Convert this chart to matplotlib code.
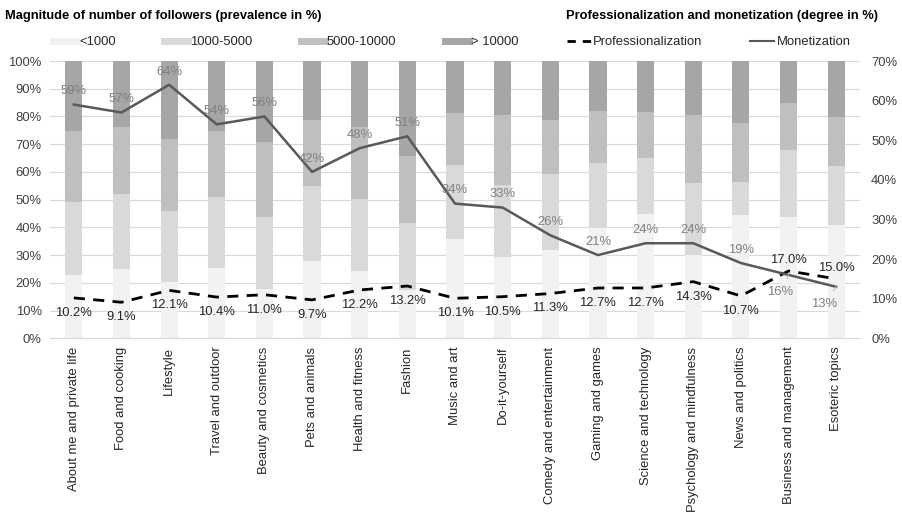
import matplotlib
matplotlib.use("Agg")
import matplotlib.pyplot as plt
from matplotlib.lines import Line2D
import numpy as np

plt.rcParams['font.family'] = ['Liberation Sans', 'DejaVu Sans']

# categories
topics = [
    "About me and private life", "Food and cooking", "Lifestyle", "Travel and outdoor",
    "Beauty and cosmetics", "Pets and animals", "Health and fitness", "Fashion",
    "Music and art", "Do-it-yourself", "Comedy and entertainment", "Gaming and games",
    "Science and technology", "Psychology and mindfulness", "News and politics",
    "Business and management", "Esoteric topics",
]

# follower magnitude shares (% of each topic)
lt_1000 = [22.7, 25.0, 20.4, 25.4, 17.8, 28.0, 24.3, 17.4, 35.8, 29.2, 31.8, 39.7, 45.0, 30.0, 44.5, 43.6, 40.9]
f_1000_5000 = [26.6, 26.9, 25.4, 25.7, 26.1, 26.9, 25.8, 24.1, 26.7, 26.1, 27.5, 23.4, 19.9, 25.9, 12.0, 24.3, 21.1]
f_5000_10000 = [25.5, 24.4, 26.2, 23.7, 26.8, 23.8, 26.0, 24.2, 18.6, 25.2, 19.4, 18.8, 16.6, 24.6, 21.1, 16.8, 17.9]
gt_10000 = [round(100 - a - b - c, 1) for a, b, c in zip(lt_1000, f_1000_5000, f_5000_10000)]

# degree of professionalization / monetization (%)
professionalization = [10.2, 9.1, 12.1, 10.4, 11.0, 9.7, 12.2, 13.2, 10.1, 10.5, 11.3, 12.7, 12.7, 14.3, 10.7, 17.0, 15.0]
monetization = [59, 57, 64, 54, 56, 42, 48, 51, 34, 33, 26, 21, 24, 24, 19, 16, 13]

bar_colors = ['#f2f2f2', '#d9d9d9', '#bfbfbf', '#a6a6a6']
bar_labels = ['<1000', '1000-5000', '5000-10000', '> 10000']

fig = plt.figure(figsize=(9.03, 5.12), dpi=100)
ax = fig.add_axes([50/903, 1 - 338.3/512, 810/903, 277.3/512])
ax2 = ax.twinx()

x = np.arange(len(topics))
bottom = np.zeros(len(topics))
for vals, col in zip([lt_1000, f_1000_5000, f_5000_10000, gt_10000], bar_colors):
    ax.bar(x, vals, width=0.36, bottom=bottom, color=col, zorder=2)
    bottom += np.array(vals)

ax.set_ylim(0, 100)
ax.set_xlim(-0.5, len(topics) - 0.5)
ax.set_yticks(np.arange(0, 101, 10))
ax.set_yticklabels([f"{v}%" for v in range(0, 101, 10)])
ax.yaxis.grid(True, color='#d9d9d9', lw=0.8, zorder=0)
ax.set_axisbelow(True)
ax.set_xticks(x)
ax.set_xticklabels(topics, rotation=90, fontsize=9.4, color='#262626')
ax.tick_params(axis='y', labelsize=9.4, labelcolor='#404040', length=0, pad=6)
ax.tick_params(axis='x', length=0, pad=6)
for s in ax.spines.values():
    s.set_visible(False)
ax.spines['bottom'].set_visible(True)
ax.spines['bottom'].set_color('#d9d9d9')

ax2.plot(x, professionalization, color='black', lw=2, ls=(0, (4, 3)), zorder=3)
ax2.plot(x, monetization, color='#595959', lw=1.8, zorder=3)
ax2.set_ylim(0, 70)
ax2.set_yticks(np.arange(0, 71, 10))
ax2.set_yticklabels([f"{v}%" for v in range(0, 71, 10)])
ax2.tick_params(axis='y', labelsize=9.4, labelcolor='#404040', length=0, pad=8)
for s in ax2.spines.values():
    s.set_visible(False)

# data labels
for i, (p, m) in enumerate(zip(professionalization, monetization)):
    if i >= len(topics) - 2:
        ax2.annotate(f"{p:.1f}%", (i, p), xytext=(0, 8), textcoords='offset points',
                     ha='center', va='center', fontsize=9.4, color='#262626')
        dx = -6 if i == len(topics) - 2 else -9
        ax2.annotate(f"{m}%", (i, m), xytext=(dx, -12.5), textcoords='offset points',
                     ha='center', va='center', fontsize=9.4, color='#7f7f7f',
                     arrowprops=dict(arrowstyle='-', color='#bfbfbf', lw=0.8, shrinkA=4, shrinkB=0))
    else:
        ax2.annotate(f"{p:.1f}%", (i, p), xytext=(0, -10.7), textcoords='offset points',
                     ha='center', va='center', fontsize=9.4, color='#262626')
        ax2.annotate(f"{m}%", (i, m), xytext=(0, 9.5), textcoords='offset points',
                     ha='center', va='center', fontsize=9.4, color='#7f7f7f')

# titles
fig.text(5/903, 1 - 16/512, "Magnitude of number of followers (prevalence in %)",
         fontsize=9.3, fontweight='bold', va='center', ha='left', color='black')
fig.text(878/903, 1 - 16/512, "Professionalization and monetization (degree in %)",
         fontsize=9.3, fontweight='bold', va='center', ha='right', color='black')

# legend
handles = [Line2D([0], [0], color=c, lw=5) for c in bar_colors]
handles.append(Line2D([0], [0], color='black', lw=2, ls=(0, (3, 2.5))))
handles.append(Line2D([0], [0], color='#595959', lw=1.5))
labels = bar_labels + ['Professionalization', 'Monetization']
fig.legend(handles, labels, loc='center left', bbox_to_anchor=(53/903, 1 - 42/512),
           ncol=6, frameon=False, fontsize=9.4, handlelength=1.85, handletextpad=0.15,
           columnspacing=3.7, borderaxespad=0, borderpad=0, labelcolor='#262626')

fig.savefig("out.png", dpi=100)
